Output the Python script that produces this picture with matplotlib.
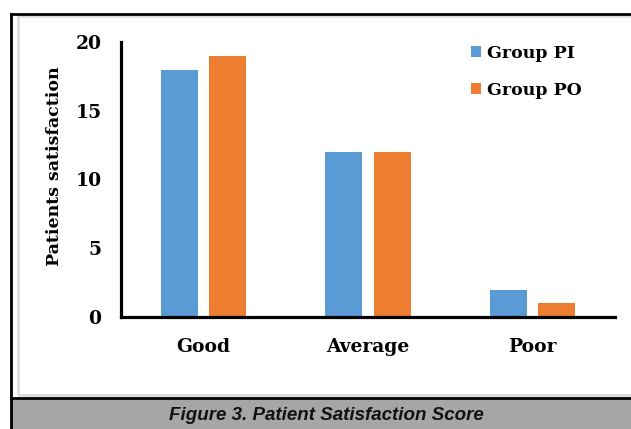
import matplotlib.pyplot as plt
import numpy as np
from matplotlib.patches import Rectangle
from matplotlib.lines import Line2D

categories = ["Good", "Average", "Poor"]
group_pi = [18, 12, 2]
group_po = [19, 12, 1]
series_names = ["Group PI", "Group PO"]
y_ticks = [0, 5, 10, 15, 20]

W, H = 631, 429
serif = ["DejaVu Serif"]
cap_font = ["Liberation Sans Narrow", "Liberation Sans", "DejaVu Sans"]


def fx(px):
    return px / W


def fy(py):
    return 1 - py / H


fig = plt.figure(figsize=(W / 100, H / 100), dpi=100)

# frames around the figure, like the page layout
fig.patches.append(Rectangle((fx(18), fy(395)), 1.0, fy(16) - fy(395), transform=fig.transFigure,
                             fill=False, edgecolor="#d9d9d9", linewidth=1.8))
fig.patches.append(Rectangle((fx(11), fy(429)), 1.0, fy(398) - fy(429), transform=fig.transFigure,
                             facecolor="#a6a6a6", edgecolor="none"))
fig.lines.append(Line2D([fx(11), 1], [fy(398), fy(398)], transform=fig.transFigure, color="black", lw=2))
fig.lines.append(Line2D([fx(11), 1], [fy(13.5), fy(13.5)], transform=fig.transFigure, color="black", lw=2))
fig.lines.append(Line2D([fx(11), fx(11)], [fy(13.5), 0], transform=fig.transFigure, color="black", lw=2))

fig.text(fx(326), fy(415), "Figure 3. Patient Satisfaction Score", ha="center", va="center",
         fontsize=13.5, fontweight="bold", fontstyle="italic", family=cap_font, color="#111111")

ax = fig.add_axes([fx(121), fy(317), fx(615) - fx(121), fy(42) - fy(317)])

x = np.arange(len(categories))
bw = 0.225
off = 0.146
ax.bar(x - off, group_pi, bw, color="#5b9bd5", label=series_names[0])
ax.bar(x + off, group_po, bw, color="#ed7d31", label=series_names[1])

ax.set_xlim(-0.5, 2.5)
ax.set_ylim(0, 20)
ax.set_yticks(y_ticks)
ax.set_xticks(x)
ax.set_xticklabels(categories)
for s in ["top", "right"]:
    ax.spines[s].set_visible(False)
for s in ["left", "bottom"]:
    ax.spines[s].set_linewidth(2.3)
ax.tick_params(axis="both", length=0, labelsize=13.5)
ax.tick_params(axis="y", pad=14)
ax.tick_params(axis="x", pad=15)
for lab in ax.get_xticklabels() + ax.get_yticklabels():
    lab.set_fontweight("bold")
    lab.set_family(serif)

ax.set_ylabel("Patients satisfaction", fontsize=12.5, fontweight="bold", family=serif)
ax.yaxis.set_label_coords(-0.117, 0.549)

leg = ax.legend(loc="upper left", bbox_to_anchor=(fx(455), fy(29)), bbox_transform=fig.transFigure,
                frameon=False, handlelength=0.6, handleheight=0.6, handletextpad=0.35,
                labelspacing=1.15, prop={"family": serif, "weight": "bold", "size": 12.5})

fig.savefig("out.png", dpi=100)
